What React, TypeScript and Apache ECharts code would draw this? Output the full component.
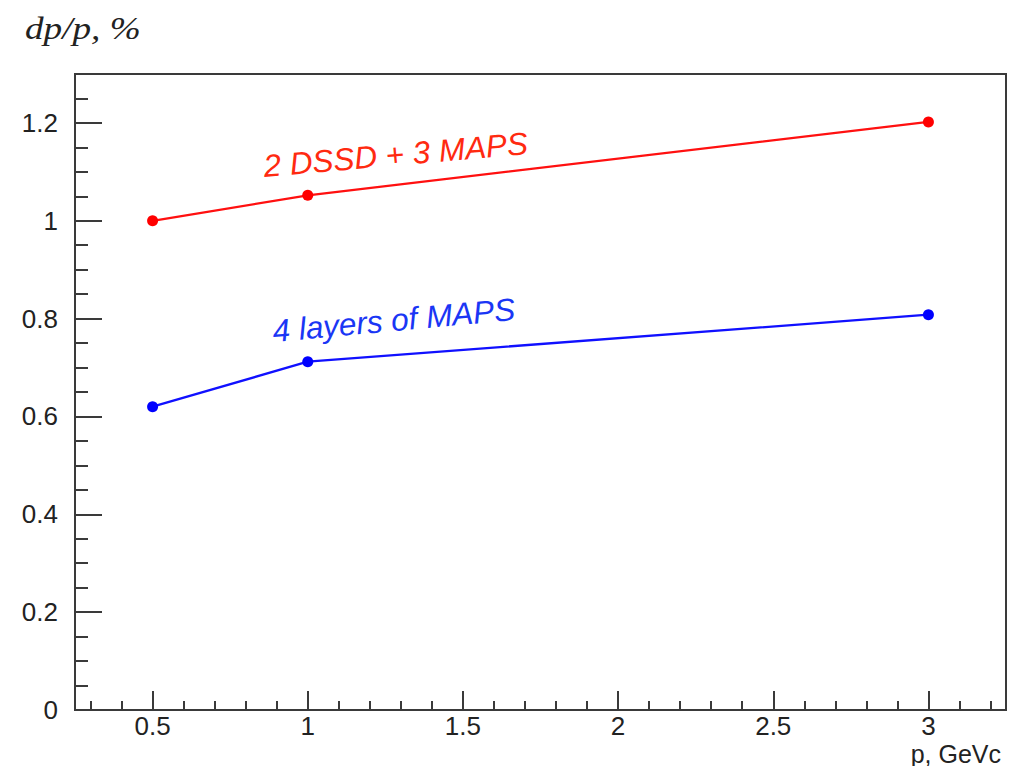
import React, { useEffect, useRef } from "react";
import * as echarts from "echarts";

const momentum = [0.5, 1, 3];
const dssdMaps = [1.0, 1.052, 1.202];
const mapsOnly = [0.62, 0.712, 0.808];
const xMajorTicks = [0.5, 1, 1.5, 2, 2.5, 3];
const xMinorTicks = [0.3, 0.4, 0.6, 0.7, 0.8, 0.9, 1.1, 1.2, 1.3, 1.4, 1.6, 1.7, 1.8, 1.9, 2.1, 2.2, 2.3, 2.4, 2.6, 2.7, 2.8, 2.9, 3.1, 3.2];
const yMajorTicks = [0, 0.2, 0.4, 0.6, 0.8, 1, 1.2];
const yMinorTicks = [0.05, 0.1, 0.15, 0.25, 0.3, 0.35, 0.45, 0.5, 0.55, 0.65, 0.7, 0.75, 0.85, 0.9, 0.95, 1.05, 1.1, 1.15, 1.25];
const seriesNames = ["2 DSSD + 3 MAPS", "4 layers of MAPS"];
const yTitle = "dp/p, %";
const xTitle = "p, GeVc";

const AXIS_COLOR = "#3a3a3a";
const FONT = "'Liberation Sans', Arial, sans-serif";

export default function App() {
  const ref = useRef<HTMLDivElement>(null);
  useEffect(() => {
    if (!ref.current) return;
    const chart = echarts.init(ref.current, undefined, { renderer: "svg" });
    const xBase = {
      type: "value" as const,
      min: 0.25,
      max: 3.25,
      gridIndex: 0,
      position: "bottom" as const,
      splitLine: { show: false },
    };
    const yBase = {
      type: "value" as const,
      min: 0,
      max: 1.3,
      gridIndex: 0,
      position: "left" as const,
      splitLine: { show: false },
    };
    chart.setOption({
      animation: false,
      backgroundColor: "#ffffff",
      grid: {
        left: 75,
        top: 74,
        right: 12,
        bottom: 56,
        show: true,
        borderColor: AXIS_COLOR,
        borderWidth: 2,
        backgroundColor: "transparent",
      },
      xAxis: [
        {
          ...xBase,
          axisLine: { show: true, lineStyle: { color: AXIS_COLOR, width: 2 } },
          axisTick: { show: true, inside: true, length: 19, customValues: xMajorTicks, lineStyle: { color: AXIS_COLOR, width: 2 } },
          axisLabel: { show: true, customValues: xMajorTicks, margin: 3, color: "#222", fontSize: 26, fontFamily: FONT },
        },
        {
          ...xBase,
          axisLine: { show: false },
          axisTick: { show: true, inside: true, length: 9, customValues: xMinorTicks, lineStyle: { color: AXIS_COLOR, width: 2 } },
          axisLabel: { show: false },
        },
      ],
      yAxis: [
        {
          ...yBase,
          axisLine: { show: true, lineStyle: { color: AXIS_COLOR, width: 2 } },
          axisTick: { show: true, inside: true, length: 27, customValues: yMajorTicks, lineStyle: { color: AXIS_COLOR, width: 2 } },
          axisLabel: { show: true, customValues: yMajorTicks, margin: 17, color: "#222", fontSize: 26, fontFamily: FONT },
        },
        {
          ...yBase,
          axisLine: { show: false },
          axisTick: { show: true, inside: true, length: 13, customValues: yMinorTicks, lineStyle: { color: AXIS_COLOR, width: 2 } },
          axisLabel: { show: false },
        },
      ],
      series: [
        {
          name: seriesNames[0],
          type: "line",
          xAxisIndex: 0,
          yAxisIndex: 0,
          data: momentum.map((p, i) => [p, dssdMaps[i]]),
          symbol: "circle",
          symbolSize: 11,
          lineStyle: { color: "#ff1010", width: 2.3 },
          itemStyle: { color: "#ff0000" },
        },
        {
          name: seriesNames[1],
          type: "line",
          xAxisIndex: 0,
          yAxisIndex: 0,
          data: momentum.map((p, i) => [p, mapsOnly[i]]),
          symbol: "circle",
          symbolSize: 11,
          lineStyle: { color: "#1010ff", width: 2.3 },
          itemStyle: { color: "#0000ff" },
        },
      ],
      graphic: [
        {
          type: "text",
          x: 25,
          y: 13,
          scaleX: 1.2,
          style: {
            text: yTitle,
            font: "italic 31px 'Liberation Serif', 'Times New Roman', serif",
            fill: "#222",
            textAlign: "left",
            textVerticalAlign: "top",
          },
        },
        {
          type: "text",
          x: 1001,
          y: 741,
          style: {
            text: xTitle,
            font: "25px " + FONT,
            fill: "#222",
            textAlign: "right",
            textVerticalAlign: "top",
          },
        },
        {
          type: "text",
          x: 265,
          y: 182,
          rotation: (5 * Math.PI) / 180,
          style: {
            text: seriesNames[0],
            font: "italic 31.5px " + FONT,
            fill: "#ff2a10",
            textAlign: "left",
            textVerticalAlign: "bottom",
          },
        },
        {
          type: "text",
          x: 274,
          y: 347,
          rotation: (5.2 * Math.PI) / 180,
          style: {
            text: seriesNames[1],
            font: "italic 31.5px " + FONT,
            fill: "#1a36f5",
            textAlign: "left",
            textVerticalAlign: "bottom",
          },
        },
      ],
    });
    return () => chart.dispose();
  }, []);
  return (
    <div
      ref={ref}
      style={{ position: "fixed", left: 0, top: 0, width: 1018, height: 766 }}
    />
  );
}
